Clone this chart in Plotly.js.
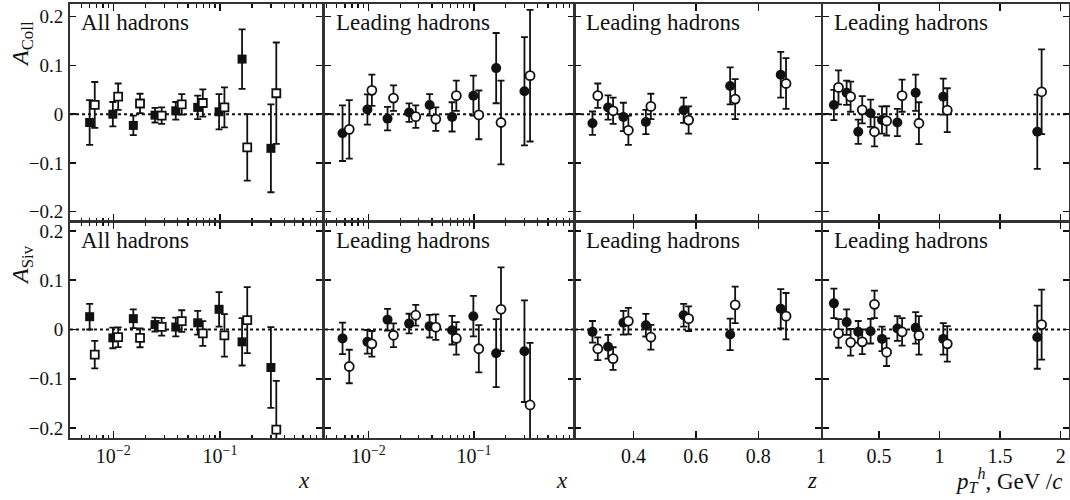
<!DOCTYPE html>
<html>
<head>
<meta charset="utf-8">
<script src="https://cdn.plot.ly/plotly-3.0.1.min.js"></script>
<style>html,body{margin:0;padding:0;background:#fff;}#chart{width:1070px;height:500px;}</style>
</head>
<body>
<div id="chart"></div>
<script>
// ---------- DATA ----------
// x bins (x Bjorken, log axis)
const allX_filled  = [0.0060, 0.0099, 0.0154, 0.0246, 0.0385, 0.0618, 0.098, 0.161, 0.300];
const allX_open    = [0.0067, 0.0111, 0.0178, 0.0284, 0.0438, 0.0690, 0.110, 0.180, 0.337];
const leadX_filled = [0.0057, 0.0098, 0.0152, 0.0243, 0.0380, 0.0620, 0.0986, 0.162, 0.300];
const leadX_open   = [0.0066, 0.0108, 0.0173, 0.0281, 0.0435, 0.0680, 0.111, 0.180, 0.339];
// z bins
const z_filled = [0.269, 0.319, 0.368, 0.440, 0.561, 0.710, 0.872];
const z_open   = [0.286, 0.335, 0.384, 0.456, 0.577, 0.726, 0.889];
// pT bins (GeV/c)
const pt_filled = [0.128, 0.233, 0.329, 0.431, 0.525, 0.652, 0.803, 1.031, 1.807];
const pt_open   = [0.166, 0.266, 0.362, 0.463, 0.563, 0.691, 0.830, 1.064, 1.843];

// A_Coll
const collAll_filled_y  = [-0.017, 0.000, -0.023, -0.002, 0.007, 0.014, 0.005, 0.113, -0.070];
const collAll_filled_e  = [0.046, 0.025, 0.020, 0.015, 0.018, 0.024, 0.036, 0.061, 0.090];
const collAll_open_y    = [0.019, 0.036, 0.022, -0.003, 0.020, 0.023, 0.014, -0.068, 0.043];
const collAll_open_e    = [0.047, 0.027, 0.020, 0.017, 0.021, 0.028, 0.041, 0.068, 0.104];

const collLead_filled_y = [-0.039, 0.0096, -0.009, 0.0034, 0.019, -0.0055, 0.038, 0.0945, 0.047];
const collLead_filled_e = [0.057, 0.031, 0.024, 0.019, 0.022, 0.030, 0.041, 0.072, 0.111];
const collLead_open_y   = [-0.031, 0.049, 0.033, -0.005, -0.010, 0.038, -0.0014, -0.017, 0.079];
const collLead_open_e   = [0.060, 0.032, 0.026, 0.023, 0.024, 0.031, 0.050, 0.086, 0.135];

const collZ_filled_y = [-0.0185, 0.0137, -0.0055, -0.016, 0.0082, 0.058, 0.081];
const collZ_filled_e = [0.024, 0.025, 0.029, 0.025, 0.026, 0.038, 0.047];
const collZ_open_y   = [0.038, 0.007, -0.033, 0.016, -0.012, 0.031, 0.063];
const collZ_open_e   = [0.025, 0.027, 0.030, 0.026, 0.028, 0.041, 0.052];

const collPt_filled_y = [0.019, 0.044, -0.036, 0.002, -0.012, -0.017, 0.044, 0.036, -0.036];
const collPt_filled_e = [0.031, 0.025, 0.025, 0.028, 0.028, 0.028, 0.037, 0.037, 0.076];
const collPt_open_y   = [0.055, 0.036, 0.009, -0.036, -0.0137, 0.038, -0.0185, 0.0082, 0.046];
const collPt_open_e   = [0.035, 0.031, 0.028, 0.030, 0.030, 0.033, 0.043, 0.045, 0.087];

// A_Siv
const sivAll_filled_y  = [0.026, -0.017, 0.022, 0.010, 0.005, 0.0136, 0.041, -0.025, -0.077];
const sivAll_filled_e  = [0.026, 0.021, 0.019, 0.014, 0.019, 0.024, 0.035, 0.048, 0.082];
const sivAll_open_y    = [-0.051, -0.0156, -0.017, 0.0054, 0.017, -0.008, -0.012, 0.019, -0.203];
const sivAll_open_e    = [0.028, 0.020, 0.019, 0.018, 0.022, 0.025, 0.043, 0.067, 0.099];

const sivLead_filled_y = [-0.018, -0.025, 0.020, 0.012, 0.0068, -0.0014, 0.027, -0.048, -0.044];
const sivLead_filled_e = [0.032, 0.024, 0.022, 0.020, 0.023, 0.029, 0.041, 0.069, 0.103];
const sivLead_open_y   = [-0.075, -0.029, -0.0116, 0.029, 0.0048, -0.018, -0.039, 0.041, -0.153];
const sivLead_open_e   = [0.034, 0.026, 0.024, 0.021, 0.026, 0.033, 0.048, 0.085, 0.126];

const sivZ_filled_y = [-0.0048, -0.035, 0.0136, 0.0088, 0.029, -0.010, 0.042];
const sivZ_filled_e = [0.022, 0.024, 0.024, 0.023, 0.023, 0.032, 0.040];
const sivZ_open_y   = [-0.039, -0.059, 0.017, -0.0156, 0.022, 0.050, 0.027];
const sivZ_open_e   = [0.023, 0.023, 0.027, 0.025, 0.025, 0.037, 0.047];

const sivPt_filled_y = [0.053, 0.015, -0.0048, -0.0034, -0.019, 0.002, 0.0034, -0.019, -0.0156];
const sivPt_filled_e = [0.030, 0.026, 0.022, 0.025, 0.025, 0.025, 0.032, 0.032, 0.064];
const sivPt_open_y   = [-0.008, -0.026, -0.025, 0.051, -0.046, -0.0048, -0.012, -0.029, 0.010];
const sivPt_open_e   = [0.029, 0.027, 0.025, 0.028, 0.028, 0.028, 0.039, 0.036, 0.071];

// tick labels
const yTickVals = [-0.2, -0.1, 0, 0.1, 0.2];
const yTickText = ['\u22120.2', '\u22120.1', '0', '0.1', '0.2'];
const logTickVals = [0.01, 0.1];
const logTickText = ['10<sup>\u22122</sup>', '10<sup>\u22121</sup>'];
const logMinorVals = [0.004,0.005,0.006,0.007,0.008,0.009,0.02,0.03,0.04,0.05,0.06,0.07,0.08,0.09,0.2,0.3,0.4,0.5,0.6,0.7,0.8,0.9];
const zTickVals = [0.4, 0.6, 0.8, 1];
const zTickText = ['0.4', '0.6', '0.8', '1'];
const ptTickVals = [0.5, 1, 1.5, 2];
const ptTickText = ['0.5', '1', '1.5', '2'];

const panelLabels = ['All hadrons', 'Leading hadrons', 'Leading hadrons', 'Leading hadrons'];
const rowTitles = ['<i>A</i><sub>Coll</sub>', '<i>A</i><sub>Siv</sub>'];
const xTitles = ['<i>x</i>', '<i>x</i>', '<i>z</i>', '<i>p</i><sub><i>T</i></sub><sup><i>h</i></sup>, GeV /<i>c</i>'];

// ---------- PANELS ----------
const panels = [
  {fx: allX_filled,  fy: collAll_filled_y,  fe: collAll_filled_e,  ox: allX_open,  oy: collAll_open_y,  oe: collAll_open_e,  sym: 'square'},
  {fx: leadX_filled, fy: collLead_filled_y, fe: collLead_filled_e, ox: leadX_open, oy: collLead_open_y, oe: collLead_open_e, sym: 'circle'},
  {fx: z_filled,     fy: collZ_filled_y,    fe: collZ_filled_e,    ox: z_open,     oy: collZ_open_y,    oe: collZ_open_e,    sym: 'circle'},
  {fx: pt_filled,    fy: collPt_filled_y,   fe: collPt_filled_e,   ox: pt_open,    oy: collPt_open_y,   oe: collPt_open_e,   sym: 'circle'},
  {fx: allX_filled,  fy: sivAll_filled_y,   fe: sivAll_filled_e,   ox: allX_open,  oy: sivAll_open_y,   oe: sivAll_open_e,   sym: 'square'},
  {fx: leadX_filled, fy: sivLead_filled_y,  fe: sivLead_filled_e,  ox: leadX_open, oy: sivLead_open_y,  oe: sivLead_open_e,  sym: 'circle'},
  {fx: z_filled,     fy: sivZ_filled_y,     fe: sivZ_filled_e,     ox: z_open,     oy: sivZ_open_y,     oe: sivZ_open_e,     sym: 'circle'},
  {fx: pt_filled,    fy: sivPt_filled_y,    fe: sivPt_filled_e,    ox: pt_open,    oy: sivPt_open_y,    oe: sivPt_open_e,    sym: 'circle'}
];

// ---------- LAYOUT ----------
const W = 1070, H = 500;
const FONT = 'Liberation Serif';
const INK = '#111';
const colDomPx = [[70, 322], [325, 574], [575, 821], [823, 1069]];
const rowDomPx = [[4, 221], [222, 438]];
const xRanges = [[-2.406, -0.044], [-2.41, -0.054], [0.213, 1.001], [0.038, 2.069]];
const yRanges = [[-0.219, 0.226], [-0.22, 0.218]];

const layout = {
  width: W, height: H,
  margin: {l: 0, r: 0, t: 0, b: 0},
  paper_bgcolor: '#fff', plot_bgcolor: '#fff',
  showlegend: false,
  font: {family: FONT, size: 20, color: INK},
  shapes: [], annotations: []
};
const traces = [];

const axisCommon = {
  showline: true, linecolor: '#333', linewidth: 2, mirror: 'ticks',
  showgrid: false, zeroline: false,
  ticks: 'inside', tickcolor: INK, tickwidth: 1.5,
  tickfont: {family: FONT, size: 20, color: INK},
  fixedrange: true
};

panels.forEach((p, i) => {
  const row = i < 4 ? 0 : 1;
  const col = i % 4;
  const n = i + 1;
  const xa = 'xaxis' + (n === 1 ? '' : n);
  const ya = 'yaxis' + (n === 1 ? '' : n);
  const xr = 'x' + (n === 1 ? '' : n);
  const yr = 'y' + (n === 1 ? '' : n);

  const xcfg = Object.assign({}, axisCommon, {
    domain: [colDomPx[col][0] / W, colDomPx[col][1] / W],
    anchor: yr,
    range: xRanges[col],
    ticklen: 7,
    showticklabels: row === 1,
    ticklabelstandoff: -1
  });
  if (col < 2) {
    Object.assign(xcfg, {
      type: 'log', tickmode: 'array', tickvals: logTickVals, ticktext: logTickText,
      minor: {tickmode: 'array', tickvals: logMinorVals, ticks: 'inside', ticklen: 3.5, tickwidth: 1.3, tickcolor: INK, showgrid: false}
    });
  } else if (col === 2) {
    Object.assign(xcfg, {type: 'linear', tickmode: 'array', tickvals: zTickVals, ticktext: zTickText});
  } else {
    Object.assign(xcfg, {type: 'linear', tickmode: 'array', tickvals: ptTickVals, ticktext: ptTickText});
  }
  layout[xa] = xcfg;

  layout[ya] = Object.assign({}, axisCommon, {
    domain: [1 - rowDomPx[row][1] / H, 1 - rowDomPx[row][0] / H],
    anchor: xr,
    range: yRanges[row],
    tickmode: 'array', tickvals: yTickVals, ticktext: yTickText,
    ticklen: 6,
    showticklabels: col === 0,
    ticklabelstandoff: 1,
    tickfont: {family: FONT, size: 19, color: INK}
  });

  // dotted zero line
  layout.shapes.push({
    type: 'line', xref: xr + ' domain', yref: yr, x0: 0, x1: 1, y0: 0, y1: 0,
    line: {color: INK, width: 2, dash: 'dot'}, layer: 'below'
  });

  const msize = p.sym === 'square' ? 9 : 10;
  traces.push({
    type: 'scatter', mode: 'markers', xaxis: xr, yaxis: yr,
    x: p.fx, y: p.fy,
    error_y: {type: 'data', array: p.fe, visible: true, color: INK, thickness: 1.8, width: 3.5},
    marker: {symbol: p.sym, size: msize, color: INK, line: {width: 0}},
    hoverinfo: 'skip'
  });
  traces.push({
    type: 'scatter', mode: 'markers', xaxis: xr, yaxis: yr,
    x: p.ox, y: p.oy,
    error_y: {type: 'data', array: p.oe, visible: true, color: INK, thickness: 1.8, width: 3.5},
    marker: {symbol: p.sym, size: msize - 1, color: '#fff', line: {width: 1.8, color: INK}},
    hoverinfo: 'skip'
  });

  // panel label
  layout.annotations.push({
    text: panelLabels[col], xref: 'paper', yref: 'paper',
    x: (colDomPx[col][0] + 9) / W, y: 1 - (rowDomPx[row][0] + 18) / H,
    xanchor: 'left', yanchor: 'middle', showarrow: false,
    font: {family: FONT, size: 23, color: INK}
  });
});

// row (y) titles
layout.annotations.push({
  text: rowTitles[0], xref: 'paper', yref: 'paper', x: 22 / W, y: 1 - 44 / H,
  xanchor: 'center', yanchor: 'middle', textangle: -90, showarrow: false,
  font: {family: FONT, size: 24, color: INK}
});
layout.annotations.push({
  text: rowTitles[1], xref: 'paper', yref: 'paper', x: 22 / W, y: 1 - 265 / H,
  xanchor: 'center', yanchor: 'middle', textangle: -90, showarrow: false,
  font: {family: FONT, size: 24, color: INK}
});

// x titles
const xTitlePos = [312, 570, 819, 1064];
xTitles.forEach((t, c) => {
  layout.annotations.push({
    text: t, xref: 'paper', yref: 'paper', x: xTitlePos[c] / W, y: 1 - 480 / H,
    xanchor: 'right', yanchor: 'middle', showarrow: false,
    font: {family: FONT, size: 23, color: INK}
  });
});

Plotly.newPlot('chart', traces, layout, {staticPlot: true, displayModeBar: false});
</script>
</body>
</html>
